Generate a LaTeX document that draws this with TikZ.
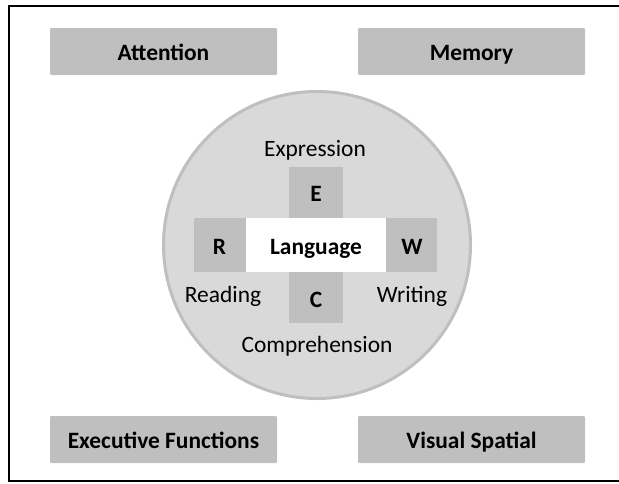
\documentclass[tikz,border=0pt]{standalone}
\usepackage{fontspec}
\setmainfont{Carlito}
\usetikzlibrary{positioning}

\definecolor{boxgray}{RGB}{191,191,191}
\definecolor{circgray}{RGB}{217,217,217}

\begin{document}
\begin{tikzpicture}[every node/.style={align=center, font=\fontsize{20}{24}\selectfont, text height=18pt, text depth=2pt}]
	\useasboundingbox (0,0) rectangle (18.57,-14.49);
	% Frame
	\draw[line width=2.5pt, black] (0.27,-0.18) rectangle (19.2,-14.43);
	% Corner boxes
	\tikzset{cornerbox/.style={fill=boxgray, rounded corners=1pt, minimum width=6.81cm, minimum height=1.41cm, inner sep=0pt, font=\fontsize{20}{24}\selectfont\bfseries}}
	\node[cornerbox] (attn) at (4.905,-1.545) {Attention};
	\node[cornerbox] (mem) at (14.145,-1.545) {Memory};
	\node[cornerbox] (exec) at (4.905,-13.185) {Executive Functions};
	\node[cornerbox] (vis) at (14.145,-13.185) {Visual Spatial};
	% Circle
	\node[circle, draw=boxgray, line width=0.09cm, fill=circgray, minimum size=9.21cm, inner sep=0pt, text height=, text depth=] (ring) at (9.51,-7.35) {};
	% Language and letters
	\tikzset{letterbox/.style={fill=boxgray, inner sep=0pt, font=\fontsize{20}{24}\selectfont\bfseries}}
	\node[fill=white, minimum width=4.2cm, minimum height=1.62cm, inner sep=0pt, font=\fontsize{20}{24}\selectfont\bfseries] (lang) at (9.48,-7.35) {Language};
	\node[letterbox, minimum width=1.62cm, minimum height=1.53cm, above=0pt of lang] (e) {E};
	\node[letterbox, minimum width=1.62cm, minimum height=1.53cm, below=0pt of lang] (c) {C};
	\node[letterbox, minimum width=1.56cm, minimum height=1.62cm, left=0pt of lang] (r) {R};
	\node[letterbox, minimum width=1.53cm, minimum height=1.62cm, right=0pt of lang] (w) {W};
	% Labels
	\node (expr) at (9.45,-4.41) {Expression};
	\node (read) at (6.69,-8.79) {Reading};
	\node (writ) at (12.36,-8.79) {Writing};
	\node (comp) at (9.51,-10.28) {Comprehension};
\end{tikzpicture}
\end{document}
